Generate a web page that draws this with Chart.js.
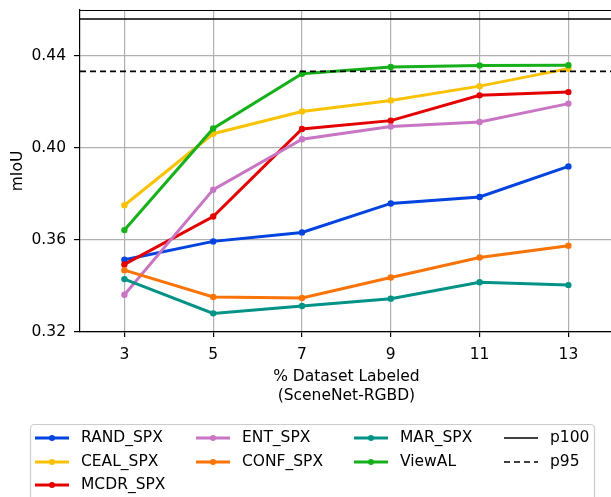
<!DOCTYPE html>
<html>
<head>
<meta charset="utf-8">
<script src="https://cdn.jsdelivr.net/npm/chart.js@4.4.0/dist/chart.umd.min.js"></script>
<style>
  html, body { margin: 0; padding: 0; background: #fff; overflow: hidden; }
  #wrap { width: 616px; height: 497px; }
</style>
</head>
<body>
<div id="wrap"><canvas id="chart"></canvas></div>
<script>
// ===== DONNÉES =====
const pct = [3, 5, 7, 9, 11, 13];
const xBounds = [2, 14];
const yTicks = [0.32, 0.36, 0.40, 0.44];

const randSpx  = [0.3514, 0.3594, 0.3633, 0.3759, 0.3787, 0.3920];
const cealSpx  = [0.3751, 0.4062, 0.4159, 0.4207, 0.4269, 0.4345];
const mcdrSpx  = [0.3494, 0.3702, 0.4083, 0.4119, 0.4229, 0.4243];
const entSpx   = [0.3362, 0.3819, 0.4038, 0.4093, 0.4113, 0.4193];
const confSpx  = [0.3469, 0.3352, 0.3348, 0.3437, 0.3524, 0.3575];
const marSpx   = [0.3430, 0.3281, 0.3313, 0.3345, 0.3416, 0.3404];
const viewAL   = [0.3643, 0.4085, 0.4323, 0.4352, 0.4359, 0.4360];
const p100 = 0.4561;
const p95  = 0.4333;

const FONT = { family: 'DejaVu Sans', size: 15.5 };

function series(label, values, color) {
  return {
    label,
    data: values.map((v, i) => ({ x: pct[i], y: v })),
    borderColor: color, backgroundColor: color,
    borderWidth: 3, pointRadius: 3.2, pointHoverRadius: 3.2,
    pointBackgroundColor: color, pointBorderWidth: 0
  };
}

function refLine(label, value, dash) {
  return {
    label,
    data: xBounds.map(x => ({ x, y: value })),
    borderColor: '#000', backgroundColor: '#000',
    borderWidth: 1.6, borderDash: dash, pointRadius: 0, isRef: true
  };
}

const datasets = [
  series('RAND_SPX', randSpx, '#0343df'),
  series('CEAL_SPX', cealSpx, '#fac205'),
  series('MCDR_SPX', mcdrSpx, '#e50000'),
  series('ENT_SPX', entSpx, '#c875c4'),
  series('CONF_SPX', confSpx, '#f97306'),
  series('MAR_SPX', marSpx, '#029386'),
  series('ViewAL', viewAL, '#15b01a'),
  refLine('p100', p100, []),
  refLine('p95', p95, [6, 4])
];
// ordre de tracé façon matplotlib : le dernier au-dessus
datasets.forEach((d, i) => { d.order = -i; });

// cadre haut/droite de la zone de tracé
const framePlugin = {
  id: 'frame',
  afterDatasetsDraw(chart) {
    const { ctx, chartArea: a } = chart;
    ctx.save();
    ctx.strokeStyle = '#000';
    ctx.lineWidth = 1.2;
    ctx.beginPath();
    ctx.moveTo(a.left, a.top + 0.5);
    ctx.lineTo(a.right, a.top + 0.5);
    ctx.lineTo(a.right, a.bottom);
    ctx.stroke();
    ctx.restore();
  }
};

// légende en 4 colonnes, remplie par colonne
const gridLegend = {
  id: 'gridLegend',
  afterDraw(chart) {
    const ctx = chart.ctx;
    const ds = chart.data.datasets;
    const ncol = 4;
    const base = Math.floor(ds.length / ncol), extra = ds.length % ncol;
    const perCol = [...Array(ncol)].map((_, c) => base + (c < extra ? 1 : 0));
    const colX = [35, 196, 354, 504];
    const rowY = [438, 462, 485];

    ctx.save();
    ctx.fillStyle = 'rgba(255,255,255,0.8)';
    ctx.strokeStyle = '#cccccc';
    ctx.lineWidth = 1.2;
    ctx.beginPath();
    ctx.roundRect(30.5, 424.5, 564, 100, 4);
    ctx.fill();
    ctx.stroke();

    let k = 0;
    perCol.forEach((n, c) => {
      for (let r = 0; r < n; r++, k++) {
        const d = ds[k];
        const x = colX[c], y = rowY[r];
        ctx.strokeStyle = d.borderColor;
        ctx.lineWidth = d.borderWidth;
        ctx.setLineDash(d.borderDash || []);
        ctx.beginPath();
        ctx.moveTo(x, y);
        ctx.lineTo(x + 34, y);
        ctx.stroke();
        ctx.setLineDash([]);
        if (!d.isRef) {
          ctx.fillStyle = d.borderColor;
          ctx.beginPath();
          ctx.arc(x + 17, y, 3, 0, Math.PI * 2);
          ctx.fill();
        }
        ctx.fillStyle = '#000';
        ctx.font = '15.5px "DejaVu Sans"';
        ctx.textBaseline = 'middle';
        ctx.fillText(d.label, x + 46, y);
      }
    });
    ctx.restore();
  }
};

new Chart(document.getElementById('chart'), {
  type: 'line',
  data: { datasets },
  options: {
    responsive: true, maintainAspectRatio: false, animation: false,
    devicePixelRatio: 1,
    layout: { padding: { top: 10, right: 0, bottom: 92, left: 0 } },
    plugins: { legend: { display: false }, tooltip: { enabled: false } },
    scales: {
      x: {
        type: 'linear', min: xBounds[0], max: xBounds[1],
        afterBuildTicks: s => { s.ticks = pct.map(v => ({ value: v })); },
        afterFit: s => { s.height = 73; s.paddingLeft = 0; s.paddingRight = 0; },
        ticks: { font: FONT, color: '#000', padding: 9, autoSkip: false, maxRotation: 0 },
        grid: { color: '#b0b0b0', lineWidth: 1.2, tickLength: 5, tickColor: '#000' },
        border: { color: '#000', width: 1.2 },
        title: { display: true, text: ['% Dataset Labeled', '(SceneNet-RGBD)'], font: FONT, color: '#000', padding: { top: 0, bottom: 0 } }
      },
      y: {
        min: 0.32, max: 0.46,
        afterBuildTicks: s => { s.ticks = yTicks.map(v => ({ value: v })); },
        afterFit: s => { s.width = 80; s.paddingTop = 0; s.paddingBottom = 0; },
        ticks: { font: FONT, color: '#000', padding: 8, callback: v => v.toFixed(2) },
        grid: { color: '#b0b0b0', lineWidth: 1.2, tickLength: 6, tickColor: '#000' },
        border: { color: '#000', width: 1.2 },
        title: { display: true, text: 'mIoU', font: FONT, color: '#000', padding: { top: 9, bottom: 0 } }
      }
    }
  },
  plugins: [framePlugin, gridLegend]
});
</script>
</body>
</html>
